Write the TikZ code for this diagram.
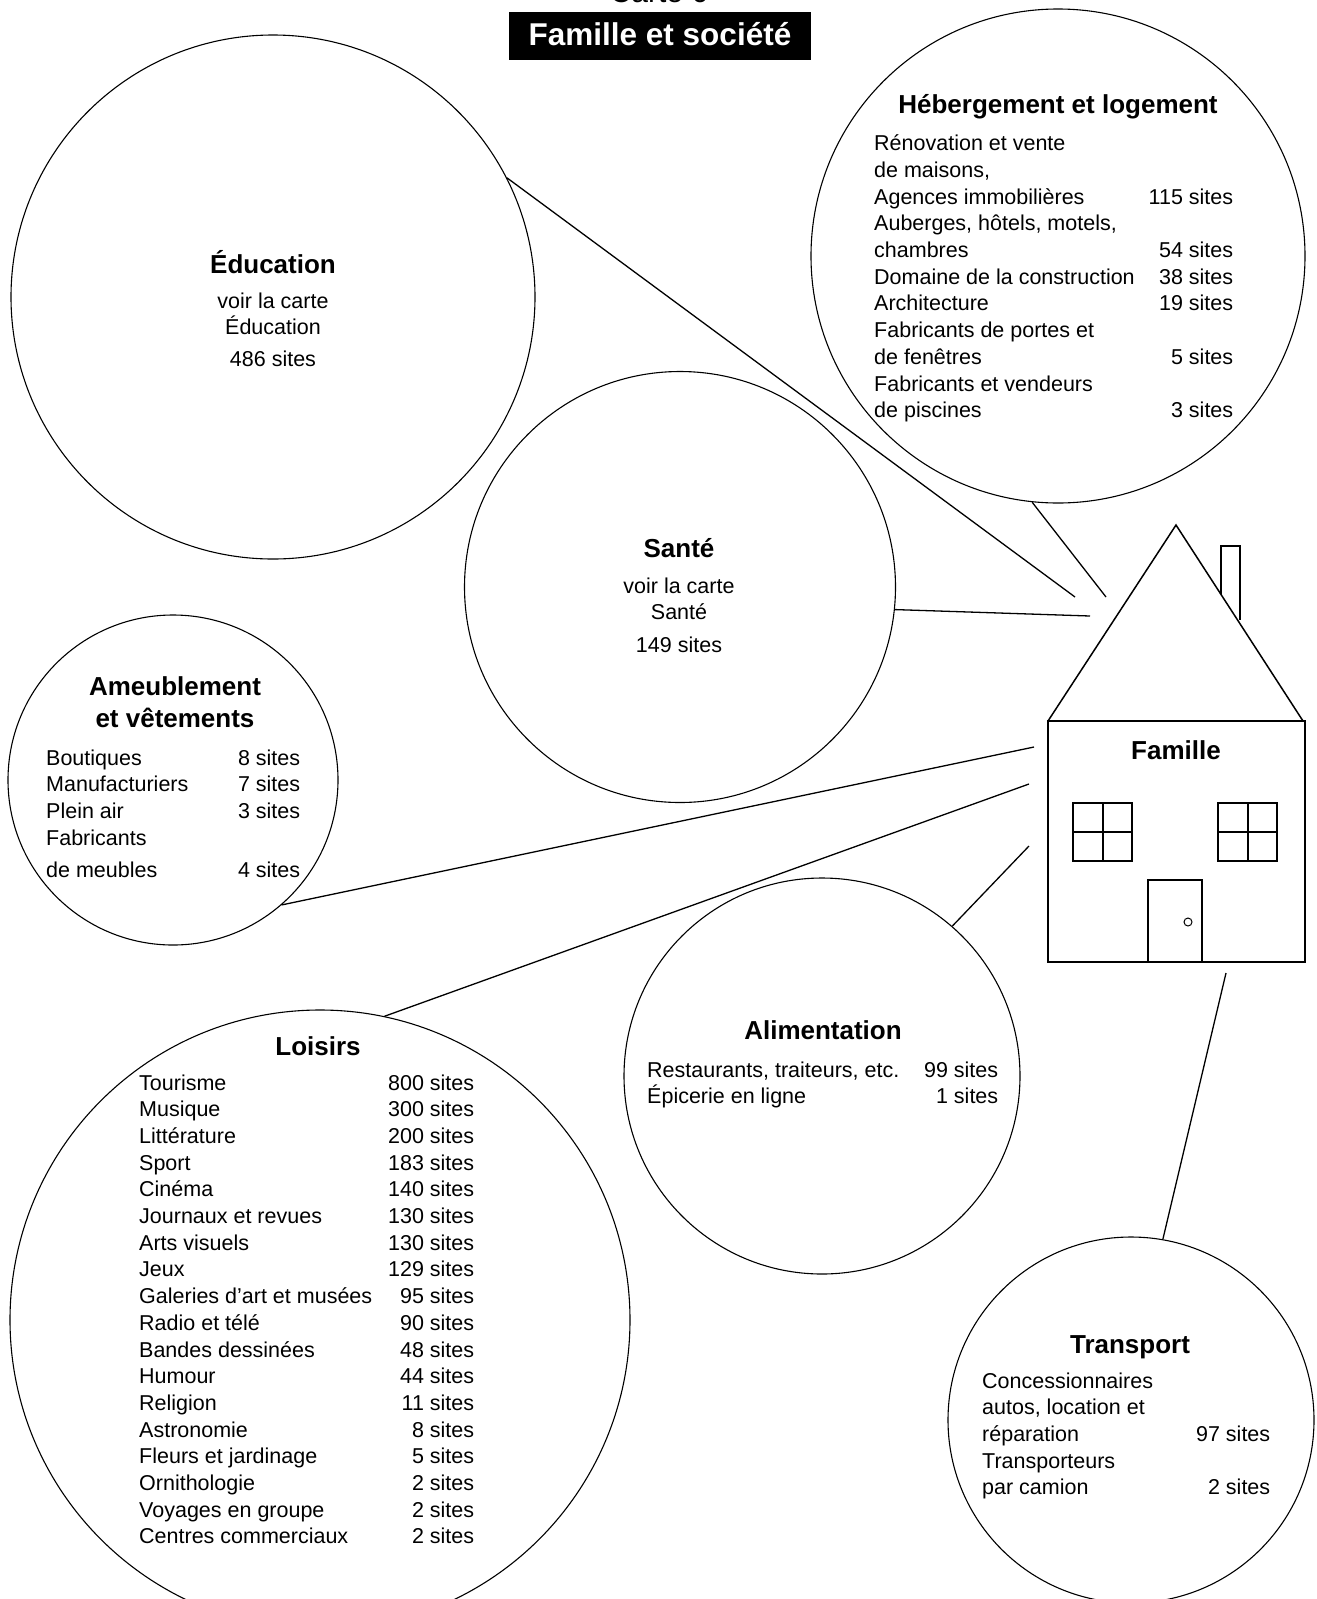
\documentclass[tikz,border=0pt]{standalone}
\usepackage{fontspec}
\setmainfont{Liberation Sans}
\usepackage{tikz}
% two-column list: label left, count right
\newcommand{\tableau}[2]{\begin{tabular*}{#1}[t]{@{}l@{\extracolsep{\fill}}r@{}}#2\end{tabular*}}
\newcommand{\centre}[1]{\begin{tabular}[t]{@{}c@{}}#1\end{tabular}}

\begin{document}
\begin{tikzpicture}[x=1pt, y=-1pt,
  bulle/.style={draw, circle, line width=1.1pt, inner sep=0pt},
  titre/.style={font=\fontsize{26}{32}\selectfont\bfseries, anchor=base, inner sep=0pt},
  texte/.style={font=\fontsize{21.5}{26.7}\selectfont, anchor=base, inner sep=0pt},
  liste/.style={texte, anchor=base west},
  lien/.style={line width=1.3pt},
  maison/.style={line width=2pt}]
 \useasboundingbox (0,0) rectangle (1317,1599);

 %header
 \node[font=\fontsize{30}{36}\selectfont, anchor=base, inner sep=0pt] (carte) at (659,2.5) {Carte 6};
 \node[fill=black, text=white, font=\fontsize{31.5}{36}\selectfont\bfseries, minimum width=302pt,
   minimum height=48pt, inner sep=0pt, text height=23pt, text depth=5pt] (entete) at (660,36) {Famille et société};

 %bubbles
 \node[bulle, minimum size=524pt] (educ) at (273,297) {};
 \node[bulle, minimum size=494pt] (heberg) at (1058,256) {};
 \node[bulle, minimum size=431pt] (sante) at (680,587) {};
 \node[bulle, minimum size=330pt] (meubles) at (173,780) {};
 \node[bulle, minimum size=620pt] (loisirs) at (320,1320) {};
 \node[bulle, minimum size=396pt] (alim) at (822,1076) {};
 \node[bulle, minimum size=366pt] (transport) at (1131,1420) {};

 %house
 \draw[line width=1.5pt] (1048,721) -- (1176,525) -- (1303,721);
 \draw[maison] (1048,721) rectangle (1305,962);
 \draw[line width=1.5pt] (1221,594) -- (1221,546) -- (1240,546) -- (1240,620);
 \foreach \x in {1073,1218} {
   \draw[maison] (\x,803) rectangle +(59,58);
   \draw[maison] (\x+29.5,803) -- +(0,58);
   \draw[maison] (\x,832) -- +(59,0);
 }
 \draw[line width=1.5pt] (1148,962) -- (1148,880) -- (1202,880) -- (1202,962);
 \draw[line width=1pt] (1188,922) circle [radius=4pt];
 \node[titre] (famille) at (1176,759) {Famille};

 %links to the house
 \coordinate (educ-fin) at (1075,597);
 \coordinate (heberg-fin) at (1106,597);
 \coordinate (sante-fin) at (1090,616);
 \coordinate (meubles-fin) at (1034,747);
 \coordinate (loisirs-fin) at (1029,784);
 \coordinate (alim-fin) at (1029,846);
 \coordinate (transport-fin) at (1226,973);
 \draw[lien] (educ.27.5) -- (educ-fin);
 \draw[lien] (heberg.264) -- (heberg-fin);
 \draw[lien] (sante.-6.4) -- (sante-fin);
 \draw[lien] (meubles.-49.6) -- (meubles-fin);
 \draw[lien] (loisirs.78.2) -- (loisirs-fin);
 \draw[lien] (alim.49.6) -- (alim-fin);
 \draw[lien] (transport.80.2) -- (transport-fin);

 %texts
 \node[titre] (educ-titre) at (273,273) {Éducation};
 \node[texte] (educ-texte) at (273,308) {\centre{voir la carte\\Éducation\\[5pt]486 sites}};

 \node[titre] (sante-titre) at (679,557) {Santé};
 \node[texte] (sante-texte) at (679,593) {\centre{voir la carte\\Santé\\[6pt]149 sites}};

 \node[titre] (heberg-titre) at (1058,113) {Hébergement et logement};
 \node[liste] (heberg-liste) at (874,150.7) {\tableau{359pt}{
   Rénovation et vente & \\
   de maisons, & \\
   Agences immobilières & 115 sites\\
   Auberges, hôtels, motels, & \\
   chambres & 54 sites\\
   Domaine de la construction & 38 sites\\
   Architecture & 19 sites\\
   Fabricants de portes et & \\
   de fenêtres & 5 sites\\
   Fabricants et vendeurs & \\
   de piscines & 3 sites}};

 \node[titre] (meubles-titre) at (175,695) {\centre{Ameublement\\et vêtements}};
 \node[liste] (meubles-liste) at (46,765) {\tableau{254pt}{
   Boutiques & 8 sites\\
   Manufacturiers & 7 sites\\
   Plein air & 3 sites\\
   Fabricants & \\[6pt]
   de meubles & 4 sites}};

 \node[titre] (loisirs-titre) at (318,1055) {Loisirs};
 \node[liste] (loisirs-liste) at (139,1090) {\tableau{335pt}{
   Tourisme & 800 sites\\
   Musique & 300 sites\\
   Littérature & 200 sites\\
   Sport & 183 sites\\
   Cinéma & 140 sites\\
   Journaux et revues & 130 sites\\
   Arts visuels & 130 sites\\
   Jeux & 129 sites\\
   Galeries d’art et musées & 95 sites\\
   Radio et télé & 90 sites\\
   Bandes dessinées & 48 sites\\
   Humour & 44 sites\\
   Religion & 11 sites\\
   Astronomie & 8 sites\\
   Fleurs et jardinage & 5 sites\\
   Ornithologie & 2 sites\\
   Voyages en groupe & 2 sites\\
   Centres commerciaux & 2 sites}};

 \node[titre] (alim-titre) at (823,1039) {Alimentation};
 \node[liste] (alim-liste) at (647,1077) {\tableau{351pt}{
   Restaurants, traiteurs, etc. & 99 sites\\
   Épicerie en ligne & 1 sites}};

 \node[titre] (transport-titre) at (1130,1353) {Transport};
 \node[liste] (transport-liste) at (982,1388) {\tableau{288pt}{
   Concessionnaires & \\
   autos, location et & \\
   réparation & 97 sites\\
   Transporteurs & \\
   par camion & 2 sites}};
\end{tikzpicture}
\end{document}
